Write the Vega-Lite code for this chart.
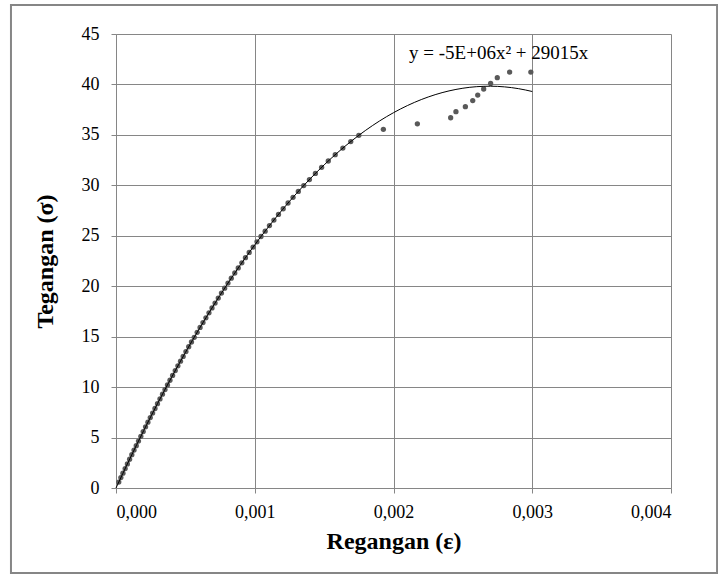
{
  "$schema": "https://vega.github.io/schema/vega-lite/v6.json",
  "width": 555,
  "height": 454,
  "autosize": {"type": "none"},
  "padding": {"left": 116, "top": 34, "right": 47, "bottom": 87},
  "background": "white",
  "config": {
    "view": {"stroke": null},
    "font": "Liberation Serif",
    "axis": {
      "domainColor": "#868686",
      "gridColor": "#868686",
      "gridWidth": 1,
      "tickColor": "#868686",
      "tickSize": 5,
      "labelFont": "Liberation Serif",
      "labelFontSize": 18,
      "labelColor": "#000000",
      "titleFont": "Liberation Serif",
      "titleFontSize": 24,
      "titleFontWeight": "bold",
      "titleColor": "#000000"
    }
  },
  "datasets": {
    "pts": [
      {"x": 0.00002, "y": 0.59}, {"x": 0.000035, "y": 1.03}, {"x": 0.00005, "y": 1.47},
      {"x": 0.000066, "y": 1.93}, {"x": 0.000082, "y": 2.39}, {"x": 0.000098, "y": 2.85},
      {"x": 0.000114, "y": 3.30}, {"x": 0.00013, "y": 3.76}, {"x": 0.000146, "y": 4.20},
      {"x": 0.000162, "y": 4.65}, {"x": 0.000179, "y": 5.12}, {"x": 0.000196, "y": 5.59},
      {"x": 0.000213, "y": 6.06}, {"x": 0.00023, "y": 6.52}, {"x": 0.000247, "y": 6.98},
      {"x": 0.000264, "y": 7.43}, {"x": 0.000281, "y": 7.88}, {"x": 0.000299, "y": 8.36},
      {"x": 0.000317, "y": 8.83}, {"x": 0.000335, "y": 9.30}, {"x": 0.000353, "y": 9.76},
      {"x": 0.000371, "y": 10.22}, {"x": 0.000389, "y": 10.68}, {"x": 0.000408, "y": 11.16},
      {"x": 0.000427, "y": 11.64}, {"x": 0.000446, "y": 12.11}, {"x": 0.000465, "y": 12.57},
      {"x": 0.000484, "y": 13.04}, {"x": 0.000504, "y": 13.52}, {"x": 0.000524, "y": 14.00},
      {"x": 0.000544, "y": 14.47}, {"x": 0.000564, "y": 14.94}, {"x": 0.000585, "y": 15.43},
      {"x": 0.000606, "y": 15.92}, {"x": 0.000627, "y": 16.40}, {"x": 0.000648, "y": 16.87},
      {"x": 0.00067, "y": 17.36}, {"x": 0.000692, "y": 17.85}, {"x": 0.000714, "y": 18.33},
      {"x": 0.000737, "y": 18.83}, {"x": 0.00076, "y": 19.32}, {"x": 0.000783, "y": 19.81},
      {"x": 0.000807, "y": 20.31}, {"x": 0.000831, "y": 20.80}, {"x": 0.000856, "y": 21.31},
      {"x": 0.000881, "y": 21.81}, {"x": 0.000907, "y": 22.32}, {"x": 0.000933, "y": 22.83},
      {"x": 0.00096, "y": 23.35}, {"x": 0.000988, "y": 23.88}, {"x": 0.001016, "y": 24.40},
      {"x": 0.001045, "y": 24.93}, {"x": 0.001075, "y": 25.46}, {"x": 0.001106, "y": 26.01},
      {"x": 0.001138, "y": 26.56}, {"x": 0.001171, "y": 27.12}, {"x": 0.001205, "y": 27.68},
      {"x": 0.00124, "y": 28.25}, {"x": 0.001276, "y": 28.81}, {"x": 0.001314, "y": 29.40},
      {"x": 0.001353, "y": 29.98}, {"x": 0.001394, "y": 30.57}, {"x": 0.001437, "y": 31.18},
      {"x": 0.001482, "y": 31.79}, {"x": 0.00153, "y": 32.41}, {"x": 0.00158, "y": 33.04},
      {"x": 0.001635, "y": 33.69}, {"x": 0.001692, "y": 34.34}, {"x": 0.00175, "y": 34.96},
      {"x": 0.001927, "y": 35.55}, {"x": 0.002172, "y": 36.10}, {"x": 0.002412, "y": 36.70},
      {"x": 0.00245, "y": 37.30}, {"x": 0.002518, "y": 37.80}, {"x": 0.002571, "y": 38.40},
      {"x": 0.002607, "y": 38.95}, {"x": 0.00265, "y": 39.55}, {"x": 0.0027, "y": 40.10},
      {"x": 0.002748, "y": 40.67}, {"x": 0.002837, "y": 41.23}, {"x": 0.00299, "y": 41.23}
    ],
    "fit": [
      {"x": 0, "y": 0}, {"x": 0.0001, "y": 2.905}, {"x": 0.0002, "y": 5.70},
      {"x": 0.0003, "y": 8.385}, {"x": 0.0004, "y": 10.96}, {"x": 0.0005, "y": 13.425},
      {"x": 0.0006, "y": 15.78}, {"x": 0.0007, "y": 18.025}, {"x": 0.0008, "y": 20.16},
      {"x": 0.0009, "y": 22.185}, {"x": 0.001, "y": 24.10}, {"x": 0.0011, "y": 25.905},
      {"x": 0.0012, "y": 27.60}, {"x": 0.0013, "y": 29.185}, {"x": 0.0014, "y": 30.66},
      {"x": 0.0015, "y": 32.025}, {"x": 0.0016, "y": 33.28}, {"x": 0.0017, "y": 34.425},
      {"x": 0.0018, "y": 35.46}, {"x": 0.0019, "y": 36.385}, {"x": 0.002, "y": 37.20},
      {"x": 0.0021, "y": 37.905}, {"x": 0.0022, "y": 38.50}, {"x": 0.0023, "y": 38.985},
      {"x": 0.0024, "y": 39.36}, {"x": 0.0025, "y": 39.625}, {"x": 0.0026, "y": 39.78},
      {"x": 0.0027, "y": 39.825}, {"x": 0.0028, "y": 39.76}, {"x": 0.0029, "y": 39.585},
      {"x": 0.003, "y": 39.30}
    ]
  },
  "layer": [
    {
      "data": {"name": "pts"},
      "mark": {"type": "point", "filled": true, "color": "#595959", "opacity": 1, "size": 28},
      "encoding": {
        "x": {
          "field": "x", "type": "quantitative",
          "scale": {"domain": [0, 0.004], "nice": false, "zero": false},
          "axis": {
            "title": "Regangan (ε)",
            "values": [0, 0.001, 0.002, 0.003, 0.004],
            "labelExpr": "replace(format(datum.value, '.3f'), '.', ',')",
            "labelPadding": 10,
            "titlePadding": 8,
            "grid": true
          }
        },
        "y": {
          "field": "y", "type": "quantitative",
          "scale": {"domain": [0, 45], "nice": false, "zero": true},
          "axis": {
            "title": "Tegangan (σ)",
            "values": [0, 5, 10, 15, 20, 25, 30, 35, 40, 45],
            "labelPadding": 12,
            "titlePadding": 24,
            "grid": true
          }
        }
      }
    },
    {
      "data": {"name": "fit"},
      "mark": {"type": "line", "color": "#000000", "strokeWidth": 1, "interpolate": "monotone"},
      "encoding": {
        "x": {"field": "x", "type": "quantitative"},
        "y": {"field": "y", "type": "quantitative"}
      }
    },
    {
      "data": {"values": [{"label": "y = -5E+06x² + 29015x"}]},
      "mark": {"type": "text", "align": "left", "baseline": "alphabetic", "fontSize": 19, "font": "Liberation Serif", "color": "#000000"},
      "encoding": {
        "text": {"field": "label"},
        "x": {"datum": 0.002112},
        "y": {"datum": 42.5}
      }
    },
    {
      "data": {"values": [{}]},
      "mark": {"type": "rect", "fillOpacity": 0, "stroke": "#868686", "strokeWidth": 2},
      "encoding": {
        "x": {"datum": -0.000757},
        "x2": {"datum": 0.004332},
        "y": {"datum": -8.42},
        "y2": {"datum": 47.87}
      }
    }
  ]
}
